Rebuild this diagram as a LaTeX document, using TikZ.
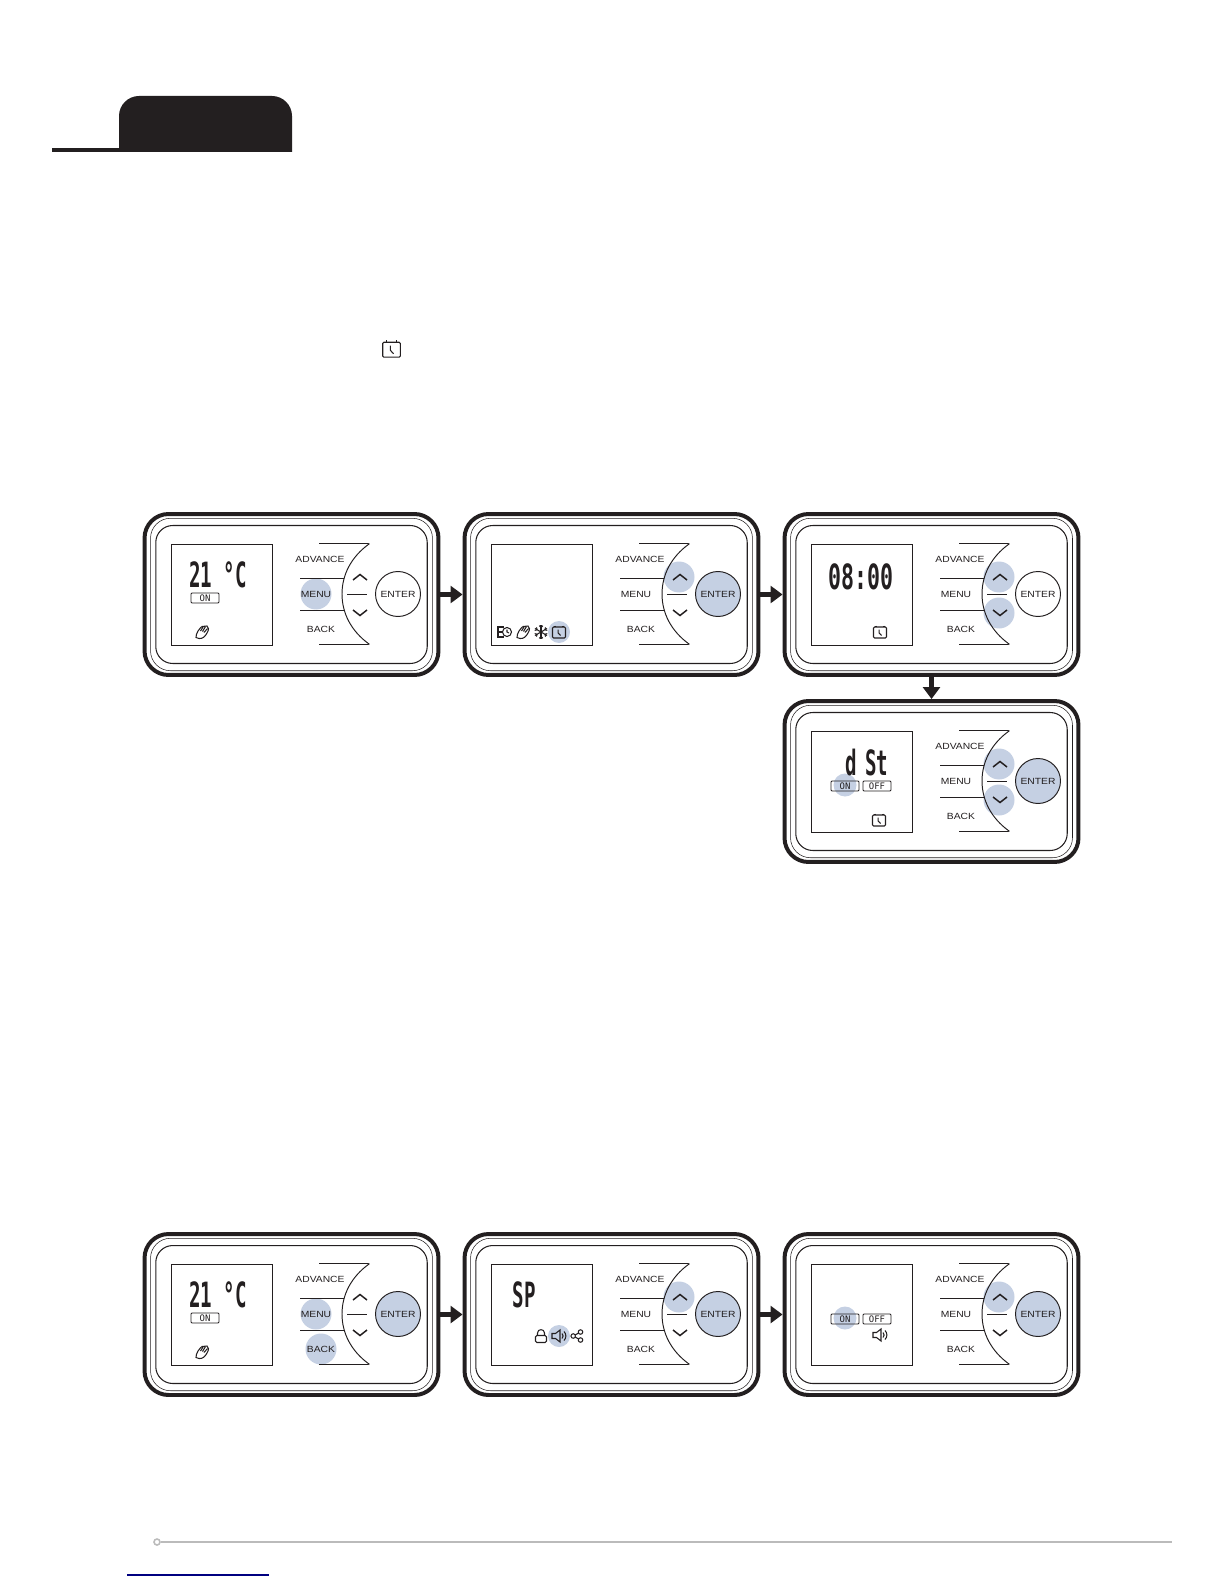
\documentclass[tikz,border=0pt]{standalone}
\usepackage{fontspec}
\usepackage{xcolor}
\usepackage{tikz}
\usetikzlibrary{arrows.meta, positioning, calc}

\setmainfont{Liberation Sans}
\newfontfamily\panelfont[FakeStretch=1.15]{Liberation Sans}
\newfontfamily\lcdfont[FakeStretch=0.55]{DejaVu Sans Mono}
\newfontfamily\lcdwide[FakeStretch=0.62]{DejaVu Sans Mono}
\newfontfamily\tagfont{DejaVu Sans Mono}

\definecolor{inkblack}{HTML}{231F20}
\definecolor{spotblue}{HTML}{C5D0E3}
\definecolor{rulegray}{HTML}{BBBBBB}

% small icons, drawn round their centre
\newcommand{\clockicon}[3]{%
  \begin{scope}[shift={(#1,#2)},scale=#3,icon]
    \draw[rounded corners=0.6pt] (-6.5,-5) rectangle (6.5,6);
    \draw (-4,-6.5) -- (-4,-5) (4,-6.5) -- (4,-5);
    \draw (-0.8,-2.5) -- (-0.8,1) -- (1.5,3.5);
  \end{scope}}
\newcommand{\handicon}[2]{%
  \begin{scope}[shift={(#1,#2)},icon]
    \draw (-6,5.5) .. controls (-6,1) and (-3,-3) .. (0,-5.5) -- (5,-6) .. controls (7,-5) and (7,-2) .. (5,1) .. controls (3,5) and (0,7) .. (-3,6.5) -- cycle;
    \draw (1,-5) -- (-1.5,-1) (3.5,-5.5) -- (0.5,-0.5) (5.5,-3.5) -- (2,0.5);
  \end{scope}}
\newcommand{\ecoicon}[2]{%
  \begin{scope}[shift={(#1,#2)},icon]
    \draw (0,-5) -- (-6,-5) -- (-6,5) -- (0,5) (-6,0) -- (-1,0);
    \draw (3,0) circle (0.09cm);
    \draw (3,-2.5) -- (3,0) -- (5,1);
  \end{scope}}
\newcommand{\flakeicon}[2]{%
  \begin{scope}[shift={(#1,#2)},icon]
    \foreach \ang in {30,90,...,330} {
      \draw (0,0) -- (\ang:7);
      \draw (\ang:4.5) -- ++(\ang+45:2.5) (\ang:4.5) -- ++(\ang-45:2.5);
    }
  \end{scope}}
\newcommand{\lockicon}[2]{%
  \begin{scope}[shift={(#1,#2)},icon]
    \draw[rounded corners=0.8pt] (-5.5,-0.5) rectangle (5.5,6.5);
    \draw (-3.5,-0.5) -- (-3.5,-3) .. controls (-3.5,-7.5) and (3.5,-7.5) .. (3.5,-3) -- (3.5,-0.5);
  \end{scope}}
\newcommand{\speakericon}[2]{%
  \begin{scope}[shift={(#1,#2)},icon]
    \draw (-7,-2.5) -- (-3.5,-2.5) -- (1,-6) -- (1,6) -- (-3.5,2.5) -- (-7,2.5) -- cycle;
    \draw (3,-2.5) .. controls (4.5,-1) and (4.5,1) .. (3,2.5);
    \draw (5,-4.5) .. controls (7.5,-2) and (7.5,2) .. (5,4.5);
  \end{scope}}
\newcommand{\shareicon}[2]{%
  \begin{scope}[shift={(#1,#2)},icon]
    \draw (-3.8,0) -- (3.5,-4) (-3.8,0) -- (3.5,4);
    \draw[fill=white] (-3.8,0) circle (0.045cm) (3.5,-4) circle (0.045cm) (3.5,4) circle (0.045cm);
  \end{scope}}

% highlighted buttons
\newcommand{\spotmenu}{\node[spot] (\pname-smenu) at (173,81) {};}
\newcommand{\spotback}{\node[spot] (\pname-sback) at (178,116) {};}
\newcommand{\spotup}{\node[spot] (\pname-sup) at (216,64) {};}
\newcommand{\spotdown}{\node[spot] (\pname-sdown) at (216,100) {};}
\newcommand{\spotenter}{\node[spot, minimum size=0.9cm] (\pname-senter) at (255,81) {};}
\newcommand{\spoton}{\node[spot, minimum size=0.46cm] (\pname-son) at (62,85) {};}
\newcommand{\tagon}{\node[tagbox] (\pname-on) at (62,86) {ON};}
\newcommand{\tagoff}{\node[tagbox] (\pname-off) at (94,86) {OFF};}

% name, left, top, spots, display content
\newcommand{\devicepanel}[5]{%
  \begin{scope}[shift={(#2,#3)}]
    \def\pname{#1}
    \node[panelframe] (#1) at (148.5,81.5) {};
    \node[panelthin] (#1-thin) at (148.5,81.5) {};
    \node[panelinner] (#1-inner) at (148.5,81.5) {};
    #4
    \node[displaybox] (#1-disp) at (78.5,81.5) {};
    #5
    % key outline
    \draw[keyline] (176,30.5) -- (225,30.5) -- (226,31) .. controls (208,44) and (199,62) .. (199,81) .. controls (199,100) and (208,118) .. (226,131) -- (225,131.5) -- (176,131.5);
    \draw[keyline] (157,65) -- (201,65);
    \draw[keyline] (157,97) -- (201,97);
    \draw[keyline] (204,81.5) -- (224,81.5);
    \draw[chevron] (210,67) -- (217,61.5) -- (224,67);
    \draw[chevron] (210,97) -- (217,102.5) -- (224,97);
    \node[keytext] (#1-adv) at (177,46) {ADVANCE};
    \node[keytext] (#1-menu) at (173,81) {MENU};
    \node[keytext] (#1-back) at (178,116) {BACK};
    \node[enterkey] (#1-enter) at (255,81) {ENTER};
  \end{scope}}

\begin{document}
\begin{tikzpicture}[
    x=0.02cm, y=-0.02cm,
    % Styles
    panelframe/.style={rectangle, draw=inkblack, line width=2.27pt, rounded corners=0.48cm, minimum width=5.88cm, minimum height=3.22cm, inner sep=0pt},
    panelthin/.style={rectangle, draw=inkblack, line width=0.3pt, rounded corners=0.4cm, minimum width=5.64cm, minimum height=3.05cm, inner sep=0pt},
    panelinner/.style={rectangle, draw=inkblack, line width=0.6pt, rounded corners=0.34cm, minimum width=5.43cm, minimum height=2.76cm, inner sep=0pt},
    displaybox/.style={rectangle, draw=inkblack, line width=0.5pt, minimum size=2.02cm, inner sep=0pt},
    keyline/.style={draw=inkblack, line width=0.55pt},
    chevron/.style={draw=inkblack, line width=0.85pt},
    keytext/.style={font=\panelfont\fontsize{5.1}{6}\selectfont, text=inkblack, inner sep=0pt},
    enterkey/.style={circle, draw=inkblack, line width=0.55pt, minimum size=0.9cm, inner sep=0pt, font=\panelfont\fontsize{5.1}{6}\selectfont, text=inkblack},
    spot/.style={circle, fill=spotblue, minimum size=0.62cm, inner sep=0pt},
    tagbox/.style={rectangle, draw=inkblack, line width=0.5pt, rounded corners=0.6pt, minimum width=0.56cm, minimum height=0.2cm, inner sep=0pt, font=\tagfont\fontsize{5.1}{6}\selectfont, text=inkblack},
    lcdtext/.style={anchor=base, inner sep=0pt, font=\lcdfont\bfseries\fontsize{19.8}{20}\selectfont, text=inkblack},
    icon/.style={draw=inkblack, line width=0.6pt},
    flowarrow/.style={-{Triangle[width=9.6pt,length=6.8pt]}, line width=2.8pt, draw=inkblack, fill=inkblack}
]
    \useasboundingbox (0,0) rectangle (1224,1584);

    % --- Page header ---
    \fill[inkblack] (119,152) -- (119,116) .. controls (119,105) and (128,96) .. (139,96) -- (272,96) .. controls (283,96) and (292,105) .. (292,116) -- (292,152) -- cycle;
    \fill[inkblack] (52,148) rectangle (119,152);
    \clockicon{391.5}{349}{1.35}

    % --- First sequence ---
    \devicepanel{pa}{143}{513}{\spotmenu}{%
      \node[lcdtext] (pa-lcd) at (75,74) {21 °C};
      \node[tagbox] (pa-on) at (62,85) {ON};
      \handicon{59}{119}}
    \devicepanel{pb}{463}{513}{\spotup\spotenter}{%
      \ecoicon{41}{119}
      \handicon{60}{119}
      \flakeicon{78}{119}
      \node[spot, minimum size=0.44cm] (pb-sclock) at (96,119) {};
      \clockicon{96}{119}{1}}
    \devicepanel{pc}{783}{513}{\spotup\spotdown}{%
      \node[lcdtext, font=\lcdwide\bfseries\fontsize{19.8}{20}\selectfont] (pc-lcd) at (78,76) {08:00};
      \clockicon{97}{119}{1}}
    \devicepanel{pd}{783}{700}{\spotup\spotdown\spotenter}{%
      \spoton
      \node[lcdtext] (pd-lcd) at (84,75) {d\hspace{0.16cm}St};
      \tagon\tagoff
      \clockicon{96}{120}{1}}

    \draw[flowarrow] (pa.east) -- (pb.west);
    \draw[flowarrow] (pb.east) -- (pc.west);
    \draw[flowarrow] (pc.south) -- (pd.north);

    % --- Second sequence ---
    \devicepanel{pe}{143}{1233}{\spotmenu\spotback\spotenter}{%
      \node[lcdtext] (pe-lcd) at (75,74) {21 °C};
      \node[tagbox] (pe-on) at (62,85) {ON};
      \handicon{59}{119}}
    \devicepanel{pf}{463}{1233}{\spotup\spotenter}{%
      \node[lcdtext] (pf-lcd) at (61,74) {SP};
      \lockicon{78}{103}
      \node[spot, minimum size=0.44cm] (pf-sspeak) at (96,103) {};
      \speakericon{96}{103}
      \shareicon{114}{103}}
    \devicepanel{pg}{783}{1233}{\spotup\spotenter}{%
      \spoton
      \tagon\tagoff
      \speakericon{97}{102}}

    \draw[flowarrow] (pe.east) -- (pf.west);
    \draw[flowarrow] (pf.east) -- (pg.west);

    % --- Page footer ---
    \node[circle, draw=rulegray, line width=0.9pt, fill=white, minimum size=0.12cm, inner sep=0pt] (dot) at (157,1542) {};
    \coordinate (ruleend) at (1172,1542);
    \draw[rulegray, line width=1.1pt] (dot) -- (ruleend);
    \draw[blue!50!black, line width=0.6pt] (127,1575) -- (269,1575);
\end{tikzpicture}
\end{document}
